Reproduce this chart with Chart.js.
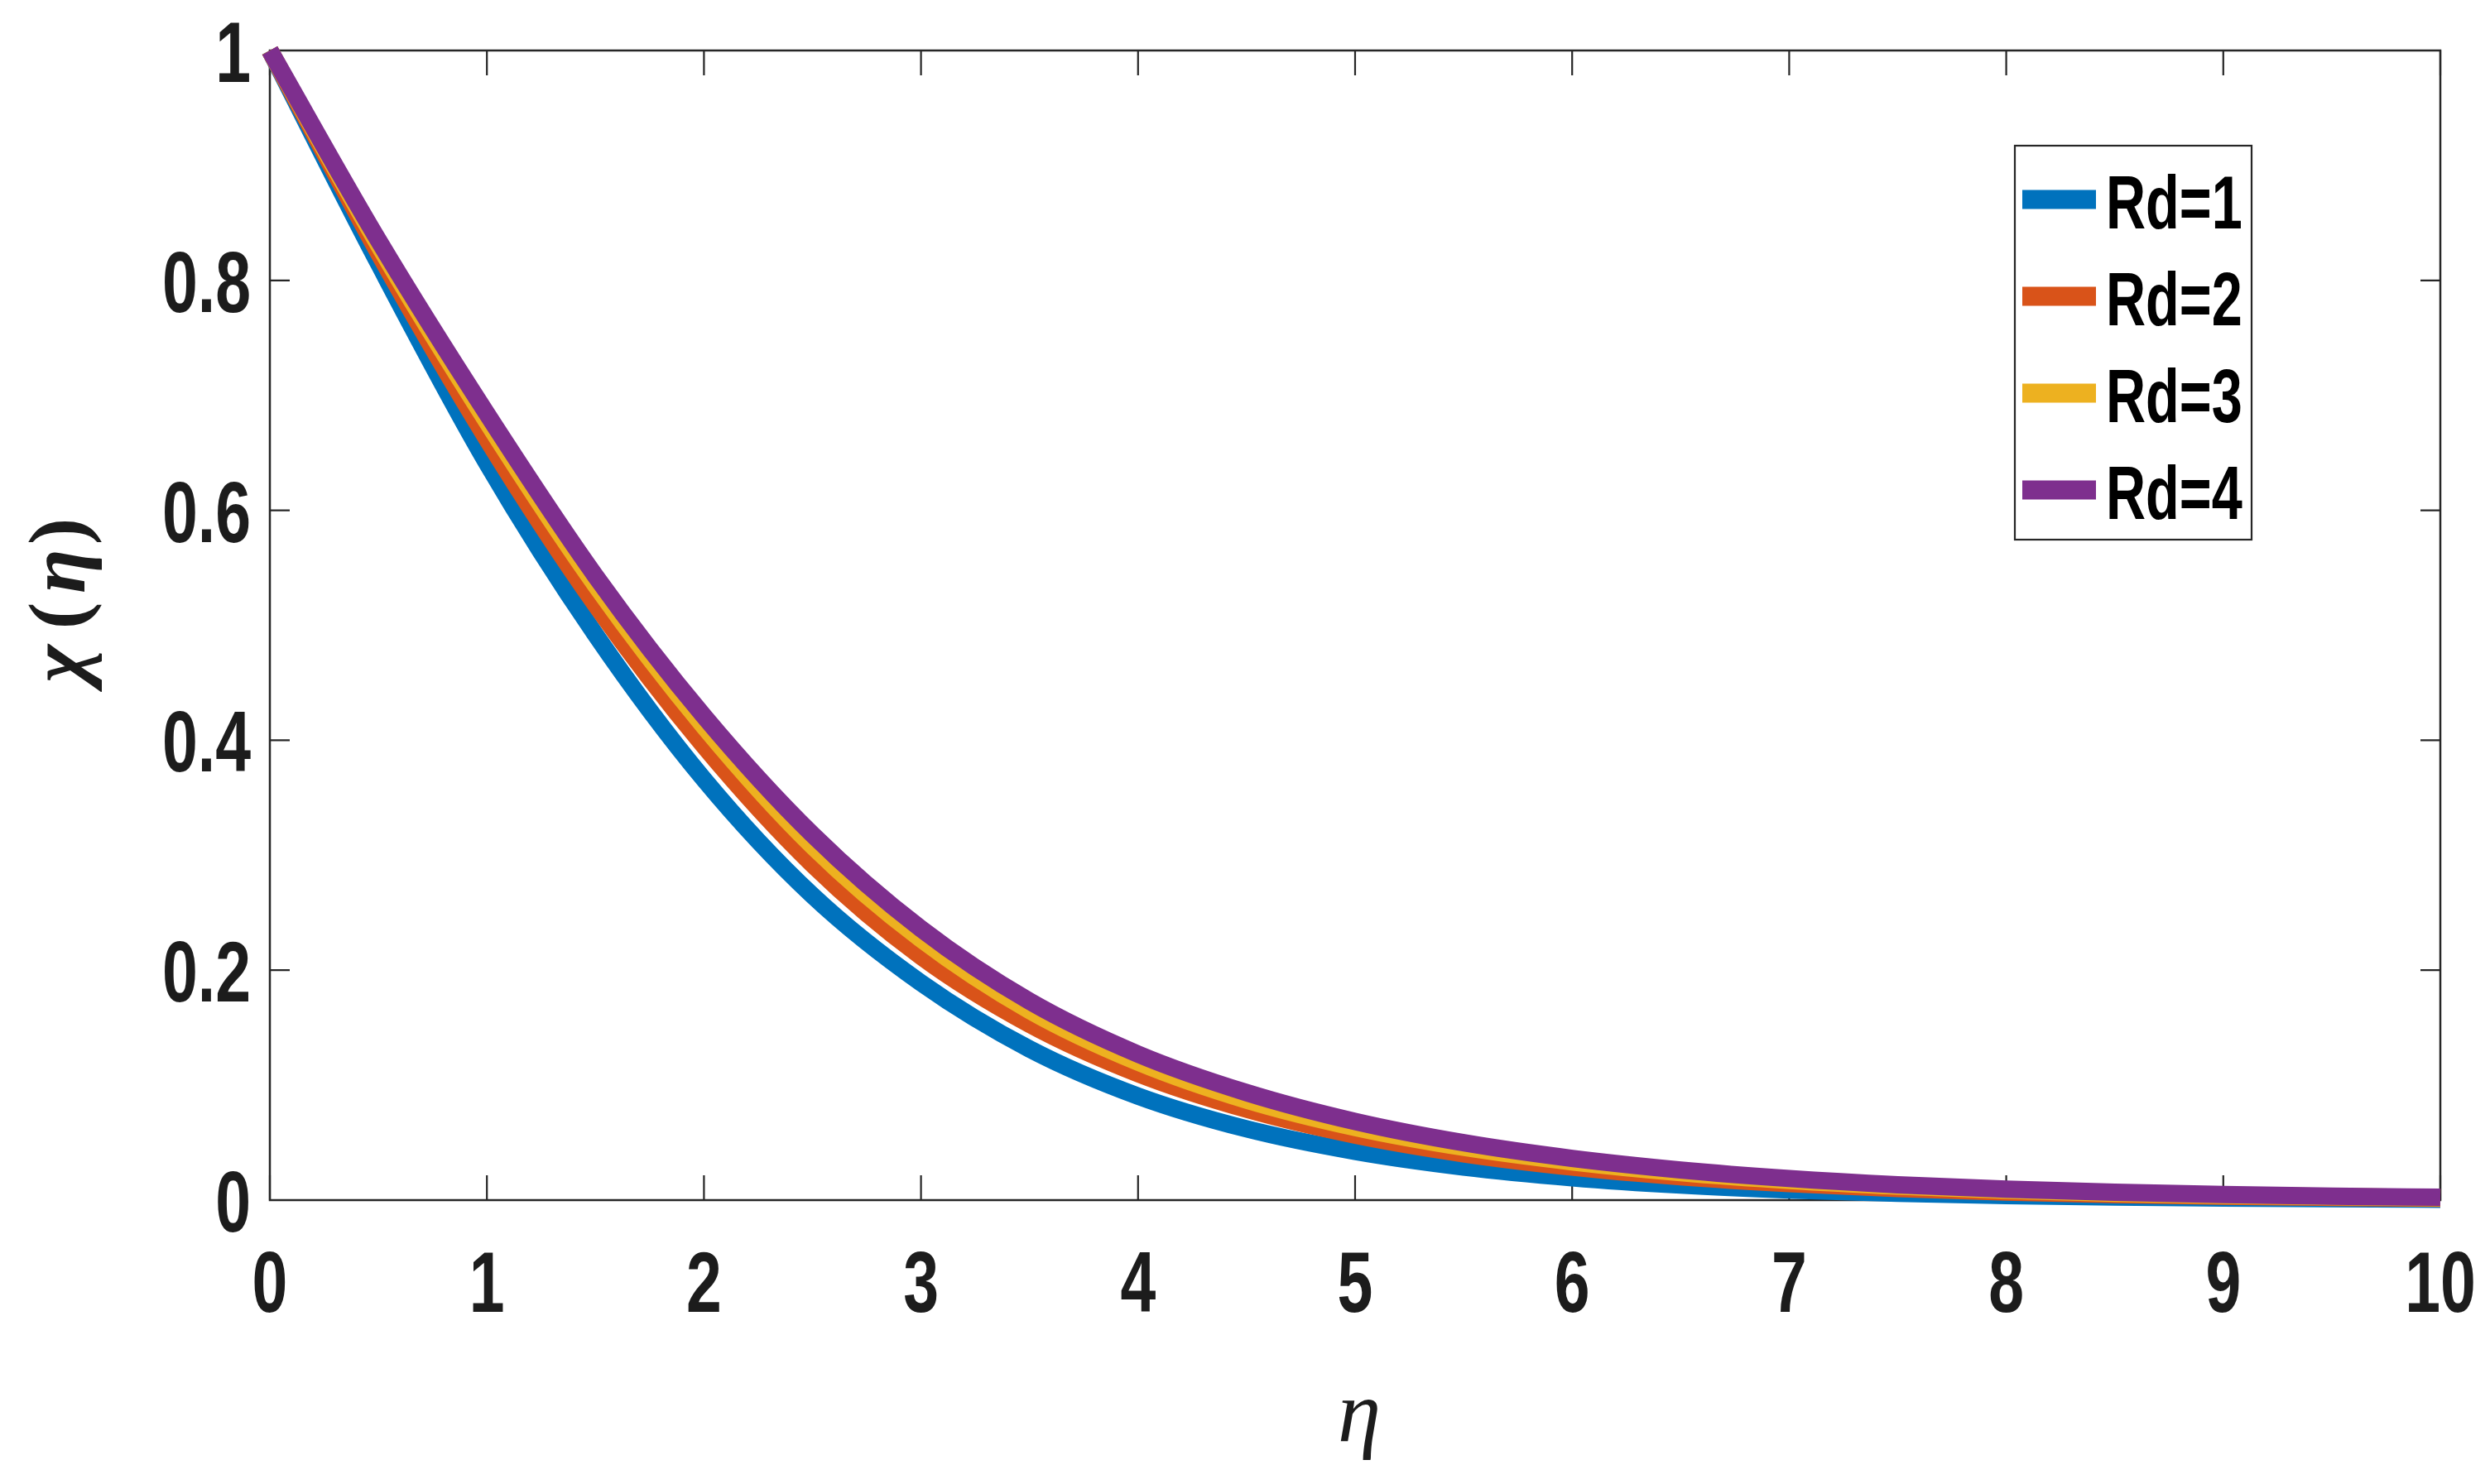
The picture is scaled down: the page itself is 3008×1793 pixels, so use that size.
<!DOCTYPE html>
<html>
<head>
<meta charset="utf-8">
<script src="https://cdn.jsdelivr.net/npm/chart.js@4.4.1/dist/chart.umd.min.js"></script>
<style>
html,body{margin:0;padding:0;background:#ffffff;overflow:hidden}
canvas{display:block}
</style>
</head>
<body>
<canvas id="c" width="3008" height="1793" style="width:3008px;height:1793px"></canvas>
<script>
// ---------------- data ----------------
const eta = [0,0.5,1,1.5,2,2.5,3,3.5,4,4.5,5,5.5,6,6.5,7,7.5,8,8.5,9,9.5,10];
const rd1 = [1.000,0.815,0.641,0.492,0.366,0.265,0.189,0.1315,0.0905,0.0620,0.0424,0.0288,0.0195,0.0131,0.0088,0.0059,0.0040,0.0027,0.0018,0.0012,0.0008];
const rd2 = [1.000,0.824,0.662,0.518,0.395,0.292,0.212,0.153,0.110,0.0790,0.0565,0.0403,0.0287,0.0203,0.0143,0.0100,0.0070,0.0049,0.0034,0.0024,0.0016];
const rd3 = [1.000,0.831,0.677,0.535,0.412,0.308,0.227,0.165,0.120,0.0870,0.0632,0.0459,0.0333,0.0239,0.0171,0.0122,0.0086,0.0060,0.0042,0.0030,0.0021];
const rd4 = [1.000,0.835,0.684,0.543,0.421,0.318,0.236,0.173,0.127,0.0935,0.0684,0.0499,0.0363,0.0262,0.0188,0.0134,0.0096,0.0068,0.0048,0.0034,0.0025];
const seriesLabels = ['Rd=1','Rd=2','Rd=3','Rd=4'];
const seriesColors = ['#0072BD','#D95319','#EDB120','#7E2F8E'];
const xTickValues = [0,1,2,3,4,5,6,7,8,9,10];
const xTickLabels = ['0','1','2','3','4','5','6','7','8','9','10'];
const yTickValues = [0,0.2,0.4,0.6,0.8,1];
const yTickLabels = ['0','0.2','0.4','0.6','0.8','1'];
const xTitle = 'η';
const yTitleParts = [['χ', true], ['(', false], ['η', true], [')', false]];

// ---------------- styling ----------------
const SANS = "'Liberation Sans',Arial,Helvetica,sans-serif";
const SERIF = "'Liberation Serif','DejaVu Serif',serif";
const NARROW_SCALE = 0.74;
const AXIS_COLOR = '#262626';
const TEXT_COLOR = '#1c1c1c';

const allSeries = [rd1, rd2, rd3, rd4];
const datasets = allSeries.map((arr, i) => ({
  label: seriesLabels[i],
  data: eta.map((x, j) => ({x: x, y: arr[j]})),
  borderColor: seriesColors[i],
  backgroundColor: seriesColors[i],
  borderWidth: 21,
  borderCapStyle: 'butt',
  borderJoinStyle: 'round',
  pointRadius: 0,
  fill: false,
  cubicInterpolationMode: 'monotone',
  clip: false,
  order: allSeries.length - i
}));

function narrowText(ctx, text, x, y, align) {
  const w = ctx.measureText(text).width * NARROW_SCALE;
  let left = x;
  if (align === 'center') left = x - w / 2;
  else if (align === 'right') left = x - w;
  ctx.save();
  ctx.translate(left, y);
  ctx.scale(NARROW_SCALE, 1);
  ctx.textAlign = 'left';
  ctx.fillText(text, 0, 0);
  ctx.restore();
}

const framePlugin = {
  id: 'frame',
  beforeDatasetsDraw(chart) {
    const {ctx, chartArea: a, scales} = chart;
    ctx.save();
    ctx.strokeStyle = AXIS_COLOR;
    ctx.lineWidth = 2.5;
    ctx.strokeRect(a.left, a.top, a.right - a.left, a.bottom - a.top);
    ctx.lineWidth = 2.2;
    const tlx = 30, tly = 24;
    ctx.beginPath();
    xTickValues.forEach(v => {
      const px = scales.x.getPixelForValue(v);
      ctx.moveTo(px, a.bottom); ctx.lineTo(px, a.bottom - tlx);
      ctx.moveTo(px, a.top); ctx.lineTo(px, a.top + tlx);
    });
    yTickValues.forEach(v => {
      const py = scales.y.getPixelForValue(v);
      ctx.moveTo(a.left, py); ctx.lineTo(a.left + tly, py);
      ctx.moveTo(a.right, py); ctx.lineTo(a.right - tly, py);
    });
    ctx.stroke();
    ctx.restore();
  },
  afterDraw(chart) {
    const {ctx, scales} = chart;
    ctx.save();
    ctx.fillStyle = TEXT_COLOR;
    ctx.font = `bold 104px ${SANS}`;
    ctx.textBaseline = 'alphabetic';
    xTickValues.forEach((v, i) => {
      const px = scales.x.getPixelForValue(v);
      narrowText(ctx, xTickLabels[i], px, 1585, 'center');
    });
    yTickValues.forEach((v, i) => {
      const py = scales.y.getPixelForValue(v);
      narrowText(ctx, yTickLabels[i], 303, py + 38, 'right');
    });
    ctx.restore();
  }
};

const titlesPlugin = {
  id: 'titles',
  afterDraw(chart) {
    const {ctx, chartArea: a} = chart;
    ctx.save();
    ctx.fillStyle = TEXT_COLOR;
    ctx.font = `italic 105px ${SERIF}`;
    ctx.textAlign = 'center';
    ctx.textBaseline = 'alphabetic';
    ctx.fillText(xTitle, (a.left + a.right) / 2 + 5, 1741);
    ctx.translate(78, 731);
    ctx.rotate(-Math.PI / 2);
    const pos = [-71, -13, 41, 89];
    yTitleParts.forEach((p, i) => {
      ctx.font = (p[1] ? 'italic bold ' : 'bold ') + `98px ${SERIF}`;
      ctx.textAlign = 'center';
      ctx.fillText(p[0], pos[i], 24);
    });
    ctx.restore();
  }
};

const legendPlugin = {
  id: 'customLegend',
  afterDraw(chart) {
    const {ctx} = chart;
    const box = {x: 2434, y: 176, w: 286, h: 476};
    ctx.save();
    ctx.fillStyle = '#ffffff';
    ctx.fillRect(box.x, box.y, box.w, box.h);
    ctx.strokeStyle = AXIS_COLOR;
    ctx.lineWidth = 2.2;
    ctx.strokeRect(box.x, box.y, box.w, box.h);
    const rowH = 117;
    chart.data.datasets.forEach((ds, i) => {
      const cy = 241 + i * rowH;
      ctx.strokeStyle = ds.borderColor;
      ctx.lineWidth = 23;
      ctx.lineCap = 'butt';
      ctx.beginPath();
      ctx.moveTo(2443, cy); ctx.lineTo(2532, cy);
      ctx.stroke();
      ctx.fillStyle = '#000000';
      ctx.font = `bold 90px ${SANS}`;
      ctx.textBaseline = 'alphabetic';
      narrowText(ctx, ds.label, 2544, cy + 35, 'left');
    });
    ctx.restore();
  }
};

new Chart(document.getElementById('c'), {
  type: 'line',
  data: {datasets: datasets},
  options: {
    responsive: false,
    devicePixelRatio: 1,
    animation: false,
    events: [],
    layout: {padding: {top: 61, right: 60, left: 0, bottom: 0}},
    plugins: {legend: {display: false}, tooltip: {enabled: false}, title: {display: false}},
    scales: {
      x: {
        type: 'linear', min: 0, max: 10,
        afterFit(s) { s.height = 343; },
        grid: {display: false, drawTicks: false},
        border: {display: false},
        ticks: {display: false}
      },
      y: {
        type: 'linear', min: 0, max: 1,
        afterFit(s) { s.width = 326; },
        grid: {display: false, drawTicks: false},
        border: {display: false},
        ticks: {display: false}
      }
    }
  },
  plugins: [framePlugin, titlesPlugin, legendPlugin]
});
</script>
</body>
</html>
